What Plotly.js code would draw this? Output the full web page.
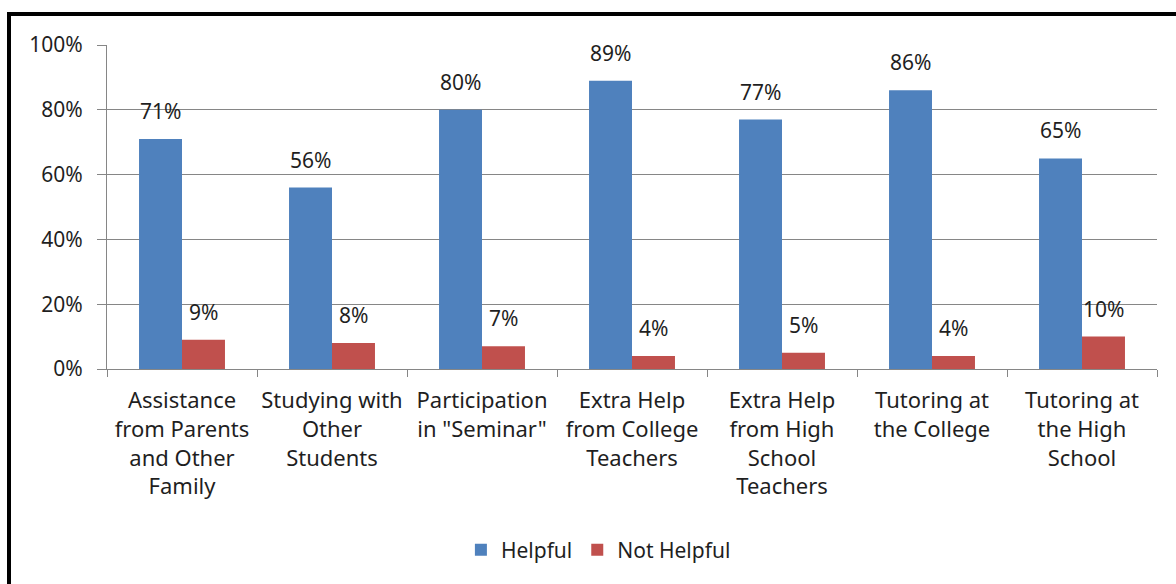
<!DOCTYPE html>
<html>
<head>
<meta charset="utf-8">
<script src="https://cdn.plot.ly/plotly-3.0.1.min.js"></script>
<style>
  html, body { margin: 0; padding: 0; background: #fff; overflow: hidden; }
  #chart { width: 1176px; height: 584px; position: relative; }
  #frame { position: absolute; left: 7px; top: 12px; width: 1400px; height: 800px;
           border: 4px solid #000; pointer-events: none; box-sizing: border-box; }
</style>
</head>
<body>
<div id="chart"></div>
<div id="frame"></div>
<script>
const categories = [
  "Assistance from Parents and Other Family",
  "Studying with Other Students",
  "Participation in \"Seminar\"",
  "Extra Help from College Teachers",
  "Extra Help from High School Teachers",
  "Tutoring at the College",
  "Tutoring at the High School"
];
const tickLabels = [
  "Assistance<br>from Parents<br>and Other<br>Family",
  "Studying with<br>Other<br>Students",
  "Participation<br>in \"Seminar\"",
  "Extra Help<br>from College<br>Teachers",
  "Extra Help<br>from High<br>School<br>Teachers",
  "Tutoring at<br>the College",
  "Tutoring at<br>the High<br>School"
];
const helpful = [71, 56, 80, 89, 77, 86, 65];
const notHelpful = [9, 8, 7, 4, 5, 4, 10];
const yTicks = [0, 20, 40, 60, 80, 100];

const FONT = "Noto Sans, Liberation Sans, sans-serif";
const TXT = "#1f1f1f";

const traces = [
  { type: "bar", name: "Helpful", x: categories, y: helpful,
    marker: { color: "#4F81BD" } },
  { type: "bar", name: "Not Helpful", x: categories, y: notHelpful,
    marker: { color: "#C0504D" } }
];

const annotations = [];
[[helpful, -21.5], [notHelpful, 21.5]].forEach(([vals, dx]) => {
  vals.forEach((v, i) => {
    annotations.push({
      x: categories[i], y: v, xref: "x", yref: "y",
      text: v + "%", showarrow: false,
      xshift: dx, yshift: 12, yanchor: "bottom", xanchor: "center",
      font: { family: FONT, size: 21, color: TXT }
    });
  });
});

const layout = {
  width: 1176, height: 584,
  margin: { l: 107, r: 19, t: 45, b: 215 },
  paper_bgcolor: "rgba(0,0,0,0)", plot_bgcolor: "#fff",
  barmode: "group", bargap: 0.427, bargroupgap: 0,
  showlegend: true,
  legend: { orientation: "h", x: 0.468, y: -0.559, xanchor: "center", yanchor: "middle",
            font: { family: FONT, size: 21, color: TXT }, itemwidth: 30, traceorder: "normal" },
  xaxis: {
    type: "category", tickvals: categories, ticktext: tickLabels,
    tickson: "boundaries", ticks: "outside", ticklen: 7, tickcolor: "#868686",
    ticklabelstandoff: 12,
    showline: true, linecolor: "#868686", linewidth: 1,
    showgrid: false, tickangle: 0,
    tickfont: { family: FONT, size: 22, color: TXT }
  },
  yaxis: {
    range: [0, 100], tickvals: yTicks, ticktext: yTicks.map(v => v + "%"),
    ticks: "outside", ticklen: 9, tickcolor: "#868686",
    ticklabelstandoff: 10,
    showline: true, linecolor: "#868686", linewidth: 1,
    showgrid: true, gridcolor: "#868686", gridwidth: 1, zeroline: false,
    tickfont: { family: FONT, size: 21, color: TXT }
  },
  annotations: annotations
};

Plotly.newPlot("chart", traces, layout, { staticPlot: true, displayModeBar: false });
</script>
</body>
</html>
